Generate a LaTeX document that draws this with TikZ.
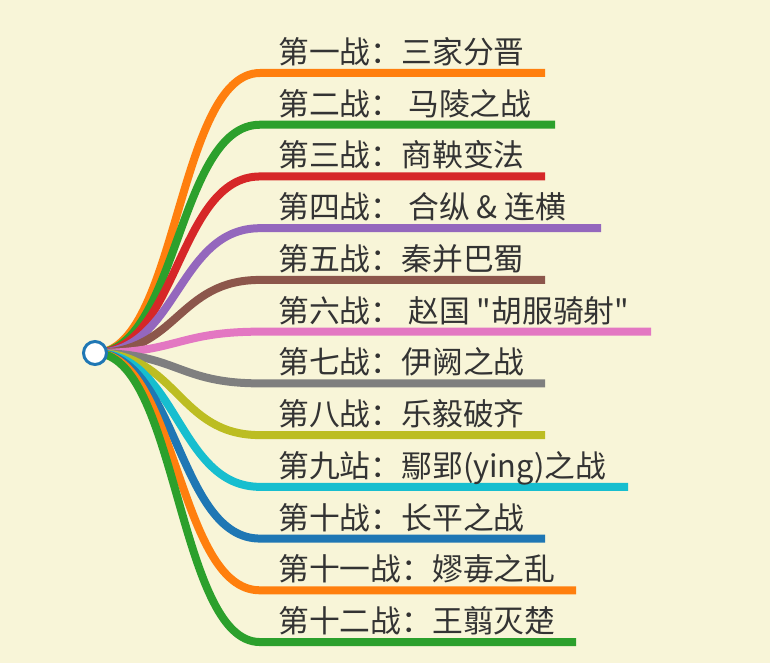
\documentclass[tikz,border=0pt]{standalone}
\usepackage{fontspec}
\newfontfamily\cjk{Noto Sans CJK SC}
\definecolor{bgc}{HTML}{F8F5D8}
\definecolor{txt}{HTML}{333333}
\definecolor{cA}{HTML}{FF7F0E}
\definecolor{cB}{HTML}{2CA02C}
\definecolor{cC}{HTML}{D62728}
\definecolor{cD}{HTML}{9467BD}
\definecolor{cE}{HTML}{8C564B}
\definecolor{cF}{HTML}{E377C2}
\definecolor{cG}{HTML}{7F7F7F}
\definecolor{cH}{HTML}{BCBD22}
\definecolor{cI}{HTML}{17BECF}
\definecolor{cJ}{HTML}{1F77B4}
\tikzset{
  branch/.style={line width=8pt},
  label/.style={anchor=base west, inner sep=0pt, text=txt, font=\cjk\fontsize{30.8}{33}\selectfont},
  rootnode/.style={circle, draw=cJ, fill=white, line width=3pt, minimum size=23pt, inner sep=0pt}
}
\begin{document}
\begin{tikzpicture}[x=1pt,y=-1pt]
\fill[bgc] (0,0) rectangle (770,663);
\useasboundingbox (0,0) rectangle (770,663);
\coordinate (rc) at (95,353);
\foreach \i/\col/\xe/\t in {
  0/cA/545/{第一战：三家分晋},
  1/cB/555/{第二战： 马陵之战},
  2/cC/545/{第三战：商鞅变法},
  3/cD/601/{第四战： 合纵 \& 连横},
  4/cE/545/{第五战：秦并巴蜀},
  5/cF/651/{第六战： 赵国 "胡服骑射"},
  6/cG/545/{第七战：伊阙之战},
  7/cH/545/{第八战：乐毅破齐},
  8/cI/628/{第九站：鄢郢(ying)之战},
  9/cJ/545/{第十战：长平之战},
  10/cA/576/{第十一战：嫪毐之乱},
  11/cB/576/{第十二战：王翦灭楚}}{
  \pgfmathsetmacro{\yy}{73+51.73*\i}
  \coordinate (s\i) at (260,\yy);
  \coordinate (e\i) at (\xe,\yy);
  \draw[branch, \col] (rc) .. controls (177.5,353) and (177.5,\yy) .. (s\i) -- (e\i);
  \node[label] (t\i) at (278,\yy-9.5) {\t};
}
\node[rootnode] (root) at (rc) {};
\end{tikzpicture}
\end{document}
